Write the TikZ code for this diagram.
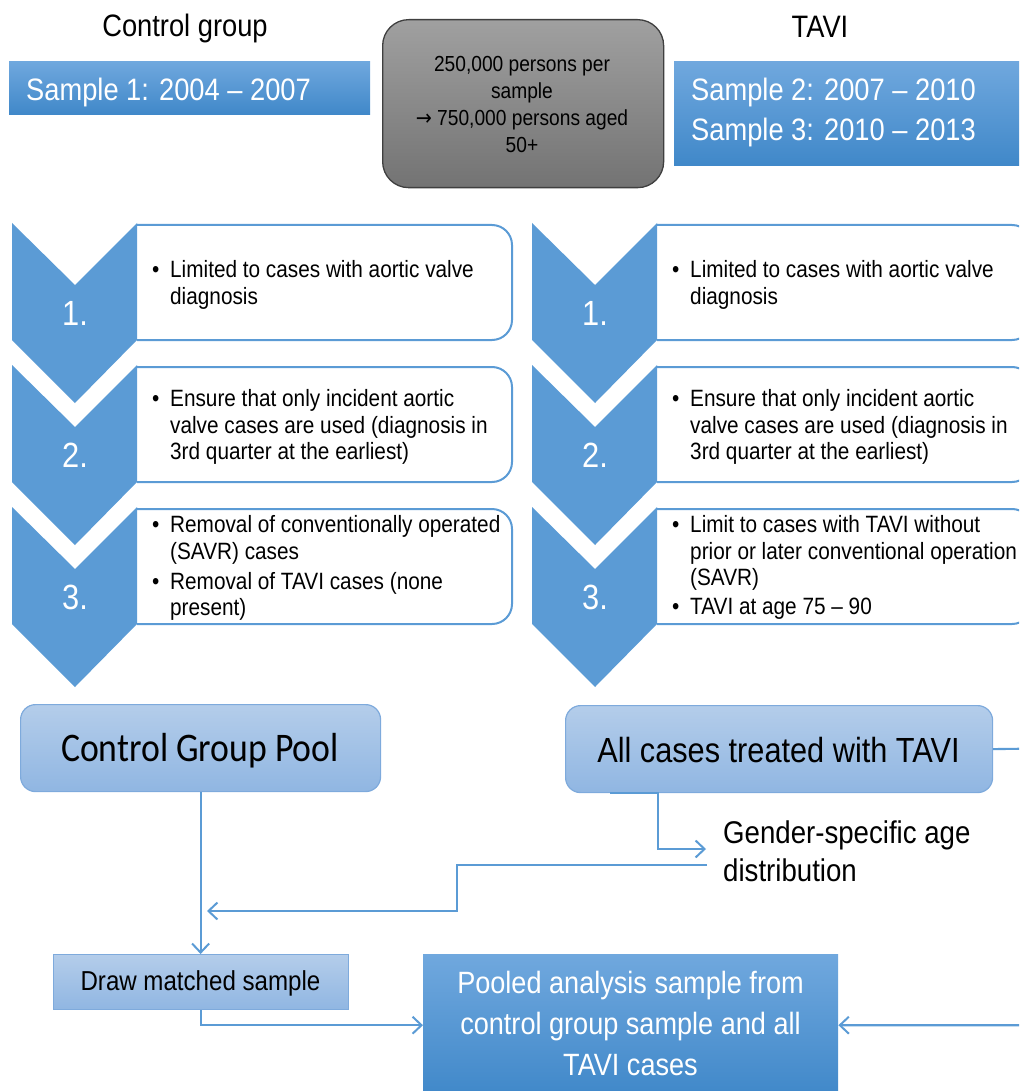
\documentclass[tikz,border=0pt]{standalone}
\usepackage{fontspec}
\setmainfont{Liberation Sans}[FakeStretch=0.88]
\newfontfamily\calfont{Carlito}[FakeStretch=0.88]
\newfontfamily\dejavu{DejaVu Sans}[FakeStretch=0.88]
\usetikzlibrary{arrows.meta}
\definecolor{chev}{HTML}{5B9BD5}
\definecolor{lineblue}{HTML}{5B9BD5}
\definecolor{sTop}{HTML}{70A8DE}
\definecolor{sBot}{HTML}{4088C9}
\definecolor{lTop}{HTML}{B4CDEA}
\definecolor{lBot}{HTML}{90B6E2}
\definecolor{lBorder}{HTML}{7EAADC}
\definecolor{gTop}{HTML}{A0A0A0}
\definecolor{gBot}{HTML}{737373}
\definecolor{gBorder}{HTML}{3F3F3F}
\newcommand{\fsz}[2]{\fontsize{#1}{#2}\selectfont}
\begin{document}
\begin{tikzpicture}[x=1pt,y=-1pt,
  conn/.style={draw=lineblue, line width=2.1pt},
  arr/.style={conn, -{Straight Barb[length=9pt,width=17pt,line width=2pt]}},
  sbox/.style={draw=none, top color=sTop, bottom color=sBot, inner sep=0pt, anchor=north west},
  lbox/.style={draw=lBorder, line width=1.2pt, top color=lTop, bottom color=lBot, inner sep=0pt, anchor=north west},
  gbox/.style={draw=gBorder, line width=1.3pt, top color=gTop, bottom color=gBot, inner sep=0pt, anchor=north west, rounded corners=26pt},
  stepframe/.style={draw=chev, line width=2pt, rounded corners=20pt},
  numtext/.style={text=white, font=\fsz{35}{35}, anchor=base, inner sep=0pt},
  btext/.style={font=\fsz{23.6}{26.7}, anchor=base west, inner sep=0pt},
  htext/.style={font=\fsz{31}{34}, anchor=base, inner sep=0pt},
  stext/.style={font=\fsz{31}{34}, text=white, anchor=base west, inner sep=0pt},
  bigtext/.style={font=\fsz{34.9}{38}, anchor=base, inner sep=0pt},
]
\useasboundingbox (0,0) rectangle (1019,1091);
\clip (0,0) rectangle (1019,1091);

% ---------- header ----------
\node[htext] (hcg) at (185,37) {Control group};
\node[htext] (htavi) at (820,38) {TAVI};

\node[sbox, minimum width=361pt, minimum height=53pt] (s1) at (9,61) {};
\node[stext] (s1t) at (26,101) {Sample 1: 2004 – 2007};

\node[sbox, minimum width=360pt, minimum height=104pt] (s2) at (674,61) {};
\node[stext] (s2t) at (691,101) {Sample 2: 2007 – 2010};
\node[stext] (s3t) at (691,141) {Sample 3: 2010 – 2013};

\node[gbox, minimum width=281pt, minimum height=168pt] (gb) at (382,19) {};
\node[font=\fsz{21.8}{27}, align=center, inner sep=0pt] (gbt) at (522,104)
  {250,000 persons per\\sample\\{\dejavu →} 750,000 persons aged\\50+};

% ---------- steps ----------
\foreach \X/\c in {0/L,520/R}{
  \foreach \T/\i in {223/1,365/2,507/3}{
    \draw[stepframe] (\X+137,\T+2) -- (\X+512,\T+2) -- (\X+512,\T+117) -- (\X+137,\T+117);
    \fill[chev] (\X+12,\T) -- (\X+75,\T+62) -- (\X+137,\T) -- (\X+137,\T+117)
       -- (\X+75,\T+180) -- (\X+12,\T+117) -- cycle;
    \node[numtext] (num\c\i) at (\X+75,\T+102) {\i.};
  }
}

% left column texts
\node[btext] (bL1) at (152,277) {•};
\node[btext] (tL1a) at (170,277) {Limited to cases with aortic valve};
\node[btext] (tL1b) at (170,304) {diagnosis};
\node[btext] (bL2) at (152,406) {•};
\node[btext] (tL2a) at (170,406) {Ensure that only incident aortic};
\node[btext] (tL2b) at (170,433) {valve cases are used (diagnosis in};
\node[btext] (tL2c) at (170,459) {3rd quarter at the earliest)};
\node[btext] (bL3a) at (152,532) {•};
\node[btext] (tL3a) at (170,532) {Removal of conventionally operated};
\node[btext] (tL3b) at (170,559) {(SAVR) cases};
\node[btext] (bL3b) at (152,589) {•};
\node[btext] (tL3c) at (170,589) {Removal of TAVI cases (none};
\node[btext] (tL3d) at (170,615) {present)};

% right column texts
\node[btext] (bR1) at (672,277) {•};
\node[btext] (tR1a) at (690,277) {Limited to cases with aortic valve};
\node[btext] (tR1b) at (690,304) {diagnosis};
\node[btext] (bR2) at (672,406) {•};
\node[btext] (tR2a) at (690,406) {Ensure that only incident aortic};
\node[btext] (tR2b) at (690,433) {valve cases are used (diagnosis in};
\node[btext] (tR2c) at (690,459) {3rd quarter at the earliest)};
\node[btext] (bR3a) at (672,532) {•};
\node[btext] (tR3a) at (690,532) {Limit to cases with TAVI without};
\node[btext] (tR3b) at (690,559) {prior or later conventional operation};
\node[btext] (tR3c) at (690,585) {(SAVR)};
\node[btext] (bR3b) at (672,614) {•};
\node[btext] (tR3d) at (690,614) {TAVI at age 75 – 90};

% ---------- bottom ----------
\node[lbox, rounded corners=15pt, minimum width=360pt, minimum height=87pt] (cgp) at (20,704) {};
\node[font=\calfont\fsz{40.6}{44}, anchor=base, inner sep=0pt] (cgpt) at (200,761) {Control Group Pool};

\node[lbox, rounded corners=15pt, minimum width=427pt, minimum height=87pt] (tavi) at (565,705) {};
\node[bigtext] (tavit) at (778.5,762) {All cases treated with TAVI};

\node[font=\fsz{31.4}{38}, anchor=base west, inner sep=0pt] (g1) at (723,843) {Gender-specific age};
\node[font=\fsz{31.4}{38}, anchor=base west, inner sep=0pt] (g2) at (723,881) {distribution};
\coordinate (genin) at (706,849);
\coordinate (genout) at (707,865);
\coordinate (mergept) at (207,911);

\node[lbox, minimum width=295pt, minimum height=55pt] (dms) at (53,954) {};
\node[font=\fsz{27.4}{30}, anchor=base, inner sep=0pt] (dmst) at (200.5,990) {Draw matched sample};

\node[sbox, minimum width=415pt, minimum height=142pt] (pool) at (423,954) {};
\node[font=\fsz{30.8}{41}, text=white, anchor=base, inner sep=0pt] (pl1) at (630.5,993) {Pooled analysis sample from};
\node[font=\fsz{30.8}{41}, text=white, anchor=base, inner sep=0pt] (pl2) at (630.5,1034) {control group sample and all};
\node[font=\fsz{30.8}{41}, text=white, anchor=base, inner sep=0pt] (pl3) at (630.5,1075) {TAVI cases};

% ---------- connectors ----------
\draw[arr] (cgp.south) -- (cgp.south |- dms.north);
\draw[arr] (dms.south) |- (pool.west);
\draw[arr] (tavi.east) -- (1040,748.5) |- (pool.east);
\draw[arr] ([xshift=45pt]tavi.south west) -- ([xshift=93pt]tavi.south west) |- (genin);
\draw[arr] (genout) -- (457,865) |- (mergept);
\end{tikzpicture}
\end{document}
